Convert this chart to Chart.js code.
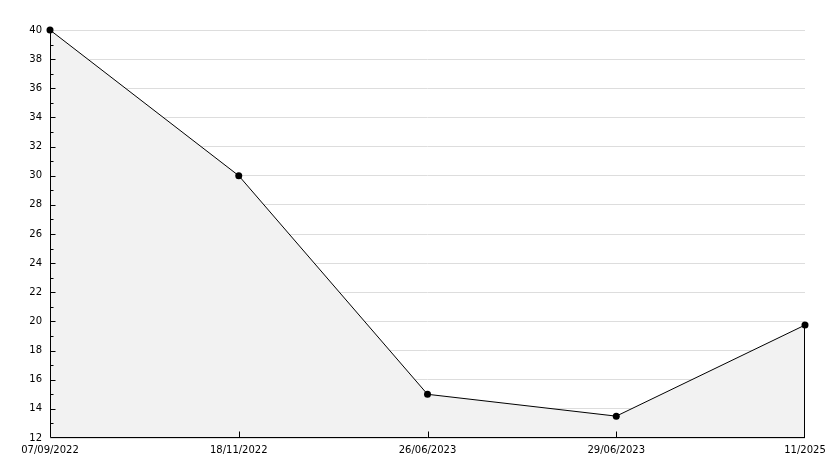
<!DOCTYPE html>
<html>
<head>
<meta charset="utf-8">
<script src="https://cdn.jsdelivr.net/npm/chart.js@4/dist/chart.umd.min.js"></script>
<style>
  html, body { margin: 0; padding: 0; background: #fff; }
  #wrap { width: 834px; height: 468px; }
</style>
</head>
<body>
<div id="wrap"><canvas id="chart" width="834" height="468"></canvas></div>
<script>
// data
const dates = ['07/09/2022', '18/11/2022', '26/06/2023', '29/06/2023', '11/2025'];
const values = [40, 30, 15, 13.5, 19.75];
const yMin = 12;
const yMax = 40;
const yStep = 2;

// axis lines and small tick marks drawn over the fill, plus the right edge of the filled area
const innerTicks = {
    id: 'innerTicks',
    afterDatasetsDraw(chart) {
        const { ctx, chartArea, scales } = chart;
        const x = scales.x, y = scales.y;
        const left = Math.round(chartArea.left) + 0.5;
        const bottom = Math.round(chartArea.bottom) - 0.5;
        ctx.save();
        ctx.strokeStyle = '#000';
        ctx.lineWidth = 1;
        ctx.beginPath();
        ctx.moveTo(left, chartArea.top);
        ctx.lineTo(left, bottom);
        ctx.lineTo(chartArea.right, bottom);
        for (let v = yMin + 1; v < yMax; v++) {
            const py = Math.round(y.getPixelForValue(v)) + 0.5;
            const len = v % 2 === 0 ? 5 : 3;
            ctx.moveTo(left, py);
            ctx.lineTo(left + len, py);
        }
        for (let i = 1; i < dates.length - 1; i++) {
            const px = Math.round(x.getPixelForValue(i)) + 0.5;
            ctx.moveTo(px, bottom);
            ctx.lineTo(px, bottom - 6);
        }
        const last = values.length - 1;
        const ex = Math.round(x.getPixelForValue(last)) - 0.5;
        ctx.moveTo(ex, y.getPixelForValue(values[last]));
        ctx.lineTo(ex, bottom);
        ctx.stroke();
        ctx.restore();
    }
};

Chart.defaults.font.family = 'DejaVu Sans';
Chart.defaults.font.size = 10;
Chart.defaults.color = '#000';

new Chart(document.getElementById('chart').getContext('2d'), {
    type: 'line',
    data: {
        labels: dates,
        datasets: [{
            data: values,
            borderColor: '#000',
            borderWidth: 1,
            backgroundColor: '#f2f2f2',
            fill: 'start',
            tension: 0,
            pointRadius: 3.5,
            pointBackgroundColor: '#000',
            pointBorderColor: '#000',
            pointBorderWidth: 0
        }]
    },
    options: {
        responsive: false,
        animation: false,
        clip: false,
        layout: { padding: { top: 30, right: 29, left: 0, bottom: 0 } },
        plugins: {
            legend: { display: false },
            tooltip: { enabled: false }
        },
        scales: {
            x: {
                offset: false,
                grid: { drawOnChartArea: false, drawTicks: false },
                border: { display: false },
                ticks: { padding: 6, maxRotation: 0, autoSkip: false },
                afterFit(scale) { scale.height = 30; }
            },
            y: {
                min: yMin,
                max: yMax,
                grid: { color: '#dddddd', lineWidth: 1, drawTicks: false },
                border: { display: false },
                ticks: { stepSize: yStep, padding: 8 },
                afterFit(scale) { scale.width = 50; }
            }
        }
    },
    plugins: [innerTicks]
});
</script>
</body>
</html>
